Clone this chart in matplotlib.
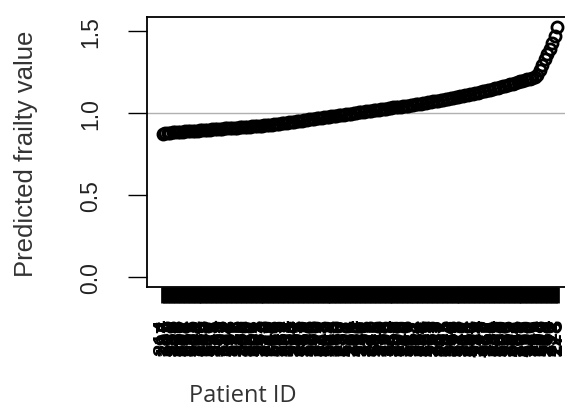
import matplotlib
matplotlib.use("Agg")
import matplotlib.pyplot as plt

# predicted frailty per patient, sorted ascending
frailty = [
    0.872, 0.878, 0.880, 0.881, 0.882, 0.884, 0.885, 0.886, 0.887, 0.888,
    0.889, 0.890, 0.891, 0.892, 0.893, 0.894, 0.895, 0.896, 0.897, 0.898,
    0.900, 0.901, 0.902, 0.903, 0.904, 0.906, 0.907, 0.908, 0.909, 0.910,
    0.911, 0.912, 0.914, 0.915, 0.916, 0.917, 0.919, 0.920, 0.921, 0.923,
    0.924, 0.926, 0.927, 0.928, 0.930, 0.932, 0.934, 0.936, 0.938, 0.940,
    0.942, 0.944, 0.946, 0.948, 0.950, 0.952, 0.954, 0.956, 0.958, 0.961,
    0.963, 0.965, 0.967, 0.969, 0.971, 0.973, 0.975, 0.978, 0.980, 0.982,
    0.984, 0.986, 0.989, 0.991, 0.993, 0.995, 0.997, 0.999, 1.002, 1.004,
    1.006, 1.008, 1.010, 1.012, 1.015, 1.017, 1.019, 1.021, 1.023, 1.025,
    1.027, 1.029, 1.032, 1.034, 1.036, 1.038, 1.040, 1.042, 1.044, 1.046,
    1.049, 1.051, 1.053, 1.056, 1.058, 1.061, 1.063, 1.066, 1.068, 1.071,
    1.073, 1.076, 1.079, 1.081, 1.084, 1.087, 1.090, 1.093, 1.096, 1.099,
    1.102, 1.105, 1.108, 1.111, 1.114, 1.118, 1.121, 1.125, 1.128, 1.132,
    1.136, 1.139, 1.143, 1.147, 1.151, 1.155, 1.160, 1.164, 1.168, 1.172,
    1.176, 1.180, 1.184, 1.189, 1.193, 1.197, 1.201, 1.205, 1.210, 1.215,
    1.222, 1.232, 1.262, 1.295, 1.330, 1.362, 1.392, 1.425, 1.470, 1.525,
]

# patient ids in the same order (not legible in the source, estimated)
patient_ids = [
    "214", "187", "305", "122", "268", "149", "233", "176", "291", "108",
    "257", "139", "316", "201", "164", "282", "119", "245", "198", "327",
    "153", "274", "131", "209", "296", "182", "114", "263", "227", "171",
    "338", "145", "252", "106", "219", "287", "160", "301", "127", "238",
    "193", "276", "112", "249", "168", "313", "135", "222", "289", "157",
    "204", "331", "124", "261", "185", "297", "141", "230", "173", "308",
    "116", "255", "196", "279", "133", "243", "162", "320", "103", "216",
    "285", "150", "237", "178", "302", "126", "264", "191", "334", "110",
    "247", "170", "293", "137", "225", "181", "311", "155", "270", "118",
    "206", "324", "143", "259", "188", "299", "129", "240", "166", "315",
    "113", "251", "194", "281", "134", "228", "159", "306", "121", "266",
    "183", "337", "147", "212", "295", "174", "104", "258", "199", "318",
    "138", "271", "163", "231", "186", "303", "125", "244", "177", "329",
    "111", "262", "195", "284", "142", "220", "167", "309", "130", "253",
    "189", "322", "154", "236", "107", "277", "179", "300", "146", "241",
    "117", "269", "203", "326", "158", "234", "190", "312", "128", "273",
]

y_ticks = [0.0, 0.5, 1.0, 1.5]
y_ticklabels = ["0.0", "0.5", "1.0", "1.5"]

n = len(frailty)
x = list(range(1, n + 1))
top = max(frailty)

plt.rcParams['font.family'] = ['Liberation Sans', 'DejaVu Sans']

fig = plt.figure(figsize=(5.65, 4.10), dpi=100)
# R-style plot region; the right edge runs past the picture as in the source
ax = fig.add_axes([147 / 565, 122 / 410, 426 / 565, 270 / 410])

ax.axhline(1.0, color='#b0b0b0', lw=1.0, zorder=1)
ax.plot(x, frailty, linestyle='none', marker='o', markersize=8.0,
        markerfacecolor='none', markeredgecolor='black', markeredgewidth=2.0,
        zorder=2)

pad = 0.04 * (n - 1)
ax.set_xlim(1 - pad, n + pad)
ax.set_ylim(-0.04 * top, 1.04 * top)

ax.set_xticks(x)
ax.set_xticklabels(patient_ids, rotation=90, fontsize=16, fontweight='bold')
ax.set_yticks(y_ticks)
ax.set_yticklabels(y_ticklabels, rotation=90, va='center', fontsize=16.5,
                   color='#222222')

ax.tick_params(axis='x', length=11.5, width=3.4, pad=11)
ax.tick_params(axis='y', length=13.7, width=1.0, pad=18.5)

for s in ax.spines.values():
    s.set_linewidth(1.3)

fig.text(26.5 / 565, 1 - 153.5 / 410, 'Predicted frailty value', rotation=90,
         fontsize=18.5, color='#333333', ha='center', va='center')

fig.text(189 / 565, 1 - 396 / 410, 'Patient ID', fontsize=17,
         family='Open Sans', color='#333333', ha='left', va='center')

fig.savefig('out.png', dpi=100)
